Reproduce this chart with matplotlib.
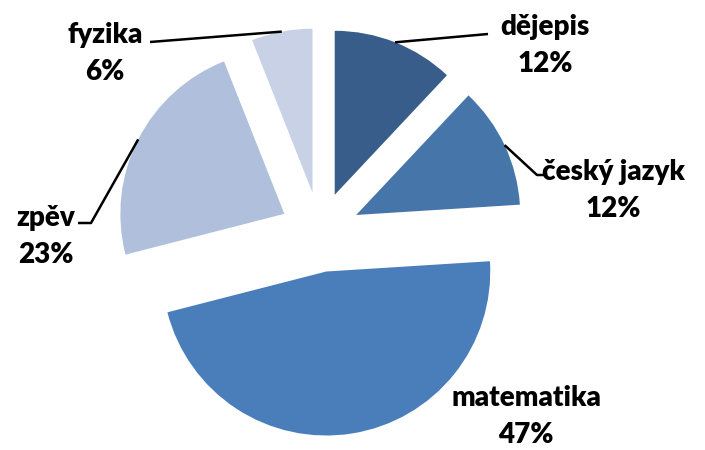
import numpy as np
import matplotlib
matplotlib.use("Agg")
import matplotlib.pyplot as plt

subjects = ["dějepis", "český jazyk", "matematika", "zpěv", "fyzika"]
shares = [12, 12, 47, 23, 6]
colors = ["#385D8A", "#4675AA", "#4A7EBB", "#B0C0DC", "#C8D1E5"]

W, H = 705, 450
CX, CY, R = 320, H - 232, 164
EXPLODE = 40  # pie explode is in data units here

fig = plt.figure(figsize=(W / 100, H / 100), dpi=100)
ax = fig.add_axes([0, 0, 1, 1])

wedges, _ = ax.pie(shares, colors=colors, startangle=90, counterclock=False,
                   radius=R, center=(CX, CY), explode=[EXPLODE] * len(shares),
                   wedgeprops=dict(linewidth=0), frame=True)
ax.set_xlim(0, W)
ax.set_ylim(0, H)
ax.set_aspect("equal")
ax.axis("off")

# label text positions (pixel coords from top) and leader line bends
label_pos = {
    "dějepis": (545, 27),
    "český jazyk": (613, 172),
    "matematika": (526, 398),
    "zpěv": (46, 218),
    "fyzika": (105, 35),
}
leaders = {
    "dějepis": [(488, 34)],
    "český jazyk": [(537, 175), (546, 175)],
    "zpěv": [(91, 223), (78, 223)],
    "fyzika": [(150, 42)],
}

font = dict(family="Lato", fontweight="heavy", fontsize=20, color="black")

for w, name, val in zip(wedges, subjects, shares):
    mid = np.deg2rad((w.theta1 + w.theta2) / 2)
    cx, cy = w.center
    anchor = (cx + R * np.cos(mid), cy + R * np.sin(mid))
    if name in leaders:
        pts = [anchor] + [(x, H - y) for x, y in leaders[name]]
        xs, ys = zip(*pts)
        ax.plot(xs, ys, color="black", lw=1.8, solid_capstyle="butt")
    lx, ly = label_pos[name]
    ax.text(lx, H - ly, name, ha="center", va="center", **font)
    ax.text(lx, H - ly - 37, f"{val}%", ha="center", va="center", **font)

fig.savefig("out.png", dpi=100)
